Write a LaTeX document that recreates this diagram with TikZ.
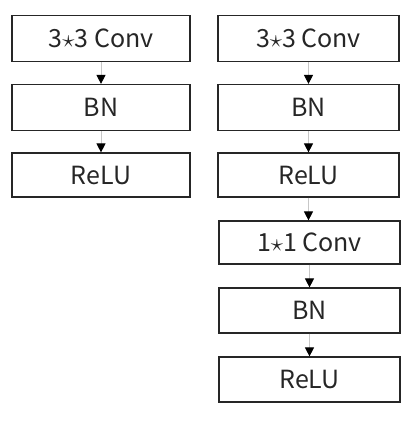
\documentclass[tikz,border=0pt]{standalone}
\usepackage{fontspec}
\setmainfont{Noto Sans CJK SC}
\usetikzlibrary{arrows.meta}
\begin{document}
\begin{tikzpicture}[x=1pt,y=-1pt,
  blk/.style={draw=black!85, line width=1.2pt, minimum width=178pt, minimum height=46pt, inner sep=0pt, font=\fontsize{25}{27}\selectfont, text=black!85},
  conn/.style={draw=black!22, line width=1pt, -{Triangle[length=9pt,width=9pt,fill=black,color=black]}}]
\useasboundingbox (0,0) rectangle (410,424);
\node[blk] (a1) at (101,38.5) {3$\star$3 Conv};
\node[blk] (a2) at (101,107.5) {BN};
\node[blk, minimum height=44pt] (a3) at (101,175) {ReLU};
\node[blk, minimum width=181pt] (b1) at (308.5,38.5) {3$\star$3 Conv};
\node[blk, minimum width=181pt] (b2) at (308.5,107.5) {BN};
\node[blk, minimum width=181pt, minimum height=44pt] (b3) at (308.5,175) {ReLU};
\node[blk, minimum width=181pt, minimum height=43pt] (b4) at (309.5,242.5) {1$\star$1 Conv};
\node[blk, minimum width=181pt, minimum height=45pt] (b5) at (309.5,310.5) {BN};
\node[blk, minimum width=181pt, minimum height=45pt] (b6) at (309.5,379.5) {ReLU};
\draw[conn] (a1) -- (a2);
\draw[conn] (a2) -- (a3);
\draw[conn] (b1.south) -- (b2.north);
\draw[conn] (b2.south) -- (b3.north);
\draw[conn] (b3.south) -- (b3.south |- b4.north);
\draw[conn] (b4.south) -- (b4.south |- b5.north);
\draw[conn] (b5.south) -- (b5.south |- b6.north);
\end{tikzpicture}
\end{document}
